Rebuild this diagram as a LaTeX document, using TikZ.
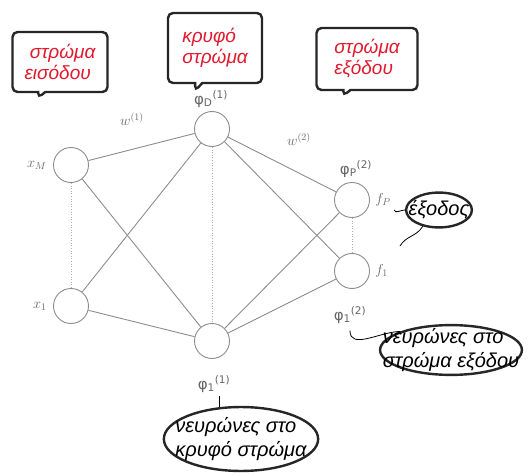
\documentclass[tikz,border=0pt]{standalone}
\usepackage{fontspec}
\usetikzlibrary{shapes.geometric,shapes.callouts,positioning}
\newfontfamily\grfont{Liberation Sans}
\newfontfamily\phifont{DejaVu Sans}
\definecolor{linegray}{RGB}{140,140,140}
\definecolor{labelred}{RGB}{225,25,45}
\tikzset{>=latex}

\begin{document}
\begin{tikzpicture}[x=1pt,y=-1pt]
        \useasboundingbox (0,0) rectangle (530,476);

        % Setup the styles for the neurons and the notes
        \tikzset{neuron/.style={circle,
                                minimum size=35pt,
                                inner sep=0pt,
                                line width=0.9pt,
                                draw=linegray,
                                fill=white},
                 sym/.style={text=black!60, font=\fontsize{14}{16}\selectfont},
                 phisym/.style={text=black!60, font=\phifont\fontsize{15}{17}\selectfont},
                 layerbox/.style={rectangle callout,
                                  rounded corners=5pt,
                                  line width=2.4pt,
                                  draw=black!85,
                                  fill=white,
                                  align=left,
                                  text=labelred,
                                  font=\grfont\itshape\fontsize{19}{21}\selectfont},
                 note/.style={ellipse,
                              line width=2.4pt,
                              draw=black!85,
                              fill=white,
                              align=left,
                              font=\grfont\itshape\fontsize{20}{24}\selectfont},
                 pointer/.style={line width=0.8pt, draw=black}}

        % Draw the neurons
        \node[neuron] at (71, 165)  (xM) {};
        \node[neuron] at (71, 306)  (x1) {};
        \node[neuron] at (212, 129) (hD) {};
        \node[neuron] at (212, 341) (h1) {};
        \node[neuron] at (352, 200) (oP) {};
        \node[neuron] at (352, 271) (o1) {};

        % Connect the neurons
        \draw[line width=0.9pt, draw=linegray]
            (xM) edge (hD)
            (xM) edge (h1)
            (x1) edge (hD)
            (x1) edge (h1)
            (hD) edge (oP)
            (hD) edge (o1)
            (h1) edge (oP)
            (h1) edge (o1);
        \draw[dotted, line width=0.6pt, draw=linegray!70]
            (xM) edge (x1)
            (hD) edge (h1)
            (oP) edge (o1);

        % Labels of the neurons and weights
        \node[sym, left=3pt of xM]  (lxM) {$x_M$};
        \node[sym, left=3pt of x1]  (lx1) {$x_1$};
        \node[sym, right=2pt of oP] (lfP) {$f_P$};
        \node[sym, right=2pt of o1] (lf1) {$f_1$};
        \node[sym] at (132, 119) (w1) {$w^{(1)}$};
        \node[sym] at (299, 139) (w2) {$w^{(2)}$};
        \node[phisym] at (211, 99) (lhD) {φ\textsubscript{D}\textsuperscript{(1)}};
        \node[phisym] at (356, 169) (loP) {φ\textsubscript{P}\textsuperscript{(2)}};
        \node[phisym] at (350, 315) (lo1) {φ\textsubscript{1}\textsuperscript{(2)}};
        \node[phisym] at (214, 384) (lh1) {φ\textsubscript{1}\textsuperscript{(1)}};

        % Layer boxes
        \node[layerbox, minimum width=95pt, minimum height=60pt,
              callout absolute pointer={(38, 98)}] at (60, 62) (inbox) {\ στρώμα\\εισόδου};
        \node[layerbox, minimum width=94pt, minimum height=70pt,
              callout absolute pointer={(195, 91)}] at (215, 48) (hidbox) {κρυφό\\στρώμα};
        \node[layerbox, minimum width=101pt, minimum height=62pt,
              callout absolute pointer={(343, 96)}] at (367, 59) (outbox) {στρώμα\\εξόδου};

        % Notes
        \node[note, inner xsep=-7pt, inner ysep=3pt] at (439, 210) (nE) {έξοδος};
        \node[note, inner xsep=-18pt, inner ysep=-4pt] at (451, 350) (nO) {νευρώνες στο\\στρώμα εξόδου};
        \node[note, inner xsep=-11pt, inner ysep=1pt] at (241, 439) (nH) {νευρώνες στο\\κρυφό στρώμα};
        \coordinate (tipE) at (400, 246);

        % Pointers of the notes
        \draw[pointer] (lfP.south east) to[out=-80, in=180] (nE.west);
        \draw[pointer] (nE.225) to[out=-120, in=60] (tipE);
        \draw[pointer] ([yshift=-4pt]lo1.south) to[out=-90, in=180] (nO.160);
        \draw[pointer] (nH.124) -- (nH.124 |- lh1.south);
\end{tikzpicture}
\end{document}
